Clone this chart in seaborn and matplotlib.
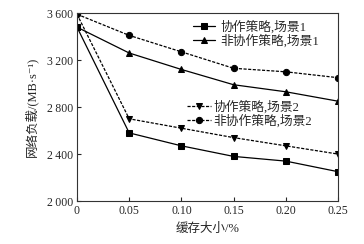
import matplotlib
matplotlib.use("Agg")
import matplotlib.pyplot as plt
import seaborn as sns
import pandas as pd

cache = [0, 0.05, 0.10, 0.15, 0.20, 0.25]
coop_s1 = [3480, 2580, 2470, 2380, 2340, 2250]
noncoop_s1 = [3480, 3260, 3120, 2990, 2930, 2850]
coop_s2 = [3590, 2700, 2620, 2540, 2470, 2400]
noncoop_s2 = [3590, 3410, 3270, 3130, 3100, 3050]
names = ["协作策略,场景1", "非协作策略,场景1", "协作策略,场景2", "非协作策略,场景2"]
xticks = [0, 0.05, 0.10, 0.15, 0.20, 0.25]
xticklabels = ["0", "0.05", "0.10", "0.15", "0.20", "0.25"]
yticks = [2000, 2400, 2800, 3200, 3600]
yticklabels = ["2\u2009000", "2\u2009400", "2\u2009800", "3\u2009200", "3\u2009600"]

sns.set_style("ticks")
plt.rcParams['font.family'] = ['Liberation Serif', 'Noto Sans CJK SC', 'DejaVu Sans']
plt.rcParams['font.size'] = 8.5

df = pd.DataFrame({
    "cache": cache * 4,
    "load": coop_s1 + noncoop_s1 + coop_s2 + noncoop_s2,
    "series": sum([[n] * len(cache) for n in names], []),
})

fig = plt.figure(figsize=(3.64, 2.44), dpi=100)
ax = fig.add_axes([0.2115, 0.176, 0.717, 0.7705])

markers = ["s", "^", "v", "o"]
dashes = ["-", "-", "--", "--"]
lines = []
for n, m, ls in zip(names, markers, dashes):
    sub = df[df["series"] == n]
    sns.lineplot(data=sub, x="cache", y="load", ax=ax, color="black",
                 marker=m, markersize=4.5, linewidth=0.9, linestyle=ls,
                 markeredgecolor="black", label=n, legend=False)
    lines.append(ax.lines[-1])
for ln in lines[2:]:
    ln.set_dashes([2.5, 1.2])

ax.set_xlim(0, 0.25)
ax.set_ylim(2000, 3600)
ax.set_xticks(xticks)
ax.set_xticklabels(xticklabels)
ax.set_yticks(yticks)
ax.set_yticklabels(yticklabels)
ax.tick_params(direction="in", length=3, width=0.8, top=False, right=False, pad=3)
for s in ax.spines.values():
    s.set_linewidth(0.8)
    s.set_color("#333333")
ax.set_xlabel("缓存大小/%", labelpad=4, fontsize=9)
ax.set_ylabel("网络负载/(MB·s⁻¹)", labelpad=6, fontsize=9)

leg1 = ax.legend(lines[:2], names[:2], loc="upper left", frameon=False,
                 fontsize=9.2, handlelength=1.7, handletextpad=0.45,
                 labelspacing=0.05, borderpad=0, borderaxespad=0,
                 bbox_to_anchor=(0.444, 0.962))
ax.add_artist(leg1)
ax.legend(lines[2:], names[2:], loc="upper left", frameon=False,
          fontsize=9.2, handlelength=1.9, handletextpad=0.15,
          labelspacing=0.05, borderpad=0, borderaxespad=0,
          bbox_to_anchor=(0.421, 0.535))

fig.savefig("out.png", dpi=100)
